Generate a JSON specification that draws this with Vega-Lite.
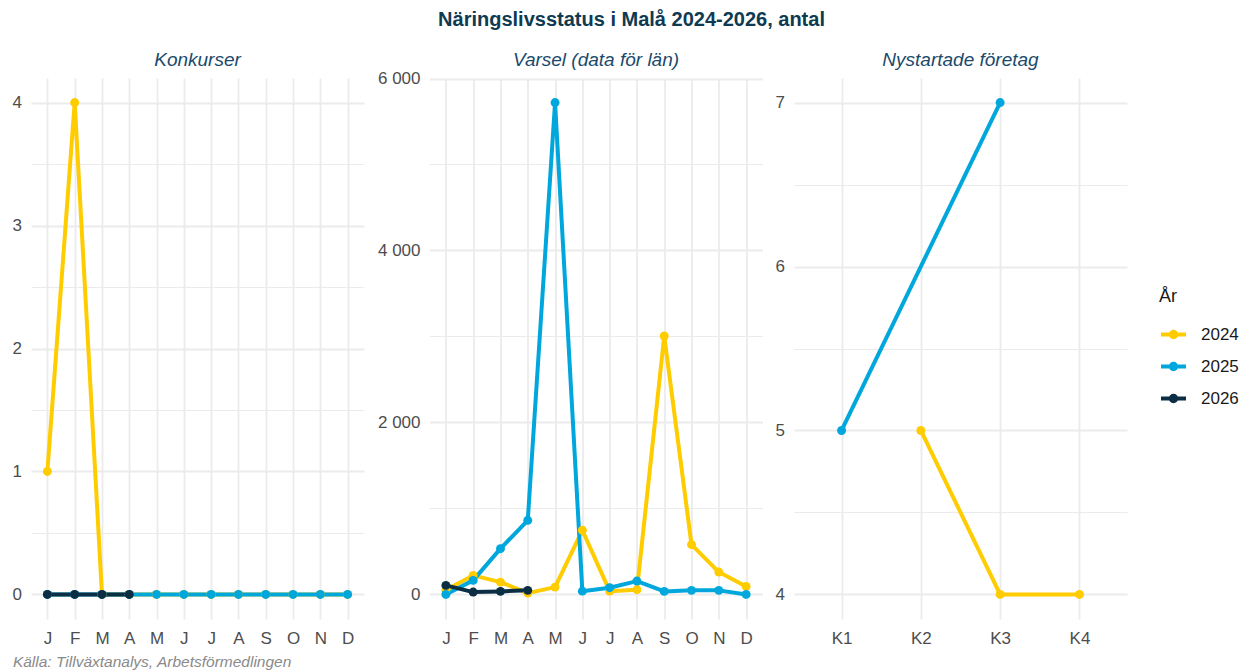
{
  "$schema": "https://vega.github.io/schema/vega-lite/v6.json",
  "background": "white",
  "padding": {"left": 12, "top": 9, "right": 5, "bottom": 0},
  "title": {"text": "Näringslivsstatus i Malå 2024-2026, antal", "fontSize": 20, "fontWeight": "bold", "fontStyle": "normal", "color": "#0e3a52", "anchor": "middle", "frame": "bounds", "offset": 21, "dx": 6},
  "datasets": {
    "konk": [
      {"year": "2024", "m": 1, "v": 1}, {"year": "2024", "m": 2, "v": 4}, {"year": "2024", "m": 3, "v": 0}, {"year": "2024", "m": 4, "v": 0},
      {"year": "2024", "m": 5, "v": 0}, {"year": "2024", "m": 6, "v": 0}, {"year": "2024", "m": 7, "v": 0}, {"year": "2024", "m": 8, "v": 0},
      {"year": "2024", "m": 9, "v": 0}, {"year": "2024", "m": 10, "v": 0}, {"year": "2024", "m": 11, "v": 0}, {"year": "2024", "m": 12, "v": 0},
      {"year": "2025", "m": 1, "v": 0}, {"year": "2025", "m": 2, "v": 0}, {"year": "2025", "m": 3, "v": 0}, {"year": "2025", "m": 4, "v": 0},
      {"year": "2025", "m": 5, "v": 0}, {"year": "2025", "m": 6, "v": 0}, {"year": "2025", "m": 7, "v": 0}, {"year": "2025", "m": 8, "v": 0},
      {"year": "2025", "m": 9, "v": 0}, {"year": "2025", "m": 10, "v": 0}, {"year": "2025", "m": 11, "v": 0}, {"year": "2025", "m": 12, "v": 0},
      {"year": "2026", "m": 1, "v": 0}, {"year": "2026", "m": 2, "v": 0}, {"year": "2026", "m": 3, "v": 0}, {"year": "2026", "m": 4, "v": 0}
    ],
    "varsel": [
      {"year": "2024", "m": 1, "v": 50}, {"year": "2024", "m": 2, "v": 221}, {"year": "2024", "m": 3, "v": 143}, {"year": "2024", "m": 4, "v": 15},
      {"year": "2024", "m": 5, "v": 85}, {"year": "2024", "m": 6, "v": 746}, {"year": "2024", "m": 7, "v": 38}, {"year": "2024", "m": 8, "v": 55},
      {"year": "2024", "m": 9, "v": 3005}, {"year": "2024", "m": 10, "v": 579}, {"year": "2024", "m": 11, "v": 260}, {"year": "2024", "m": 12, "v": 93},
      {"year": "2025", "m": 1, "v": 0}, {"year": "2025", "m": 2, "v": 163}, {"year": "2025", "m": 3, "v": 532}, {"year": "2025", "m": 4, "v": 862},
      {"year": "2025", "m": 5, "v": 5720}, {"year": "2025", "m": 6, "v": 38}, {"year": "2025", "m": 7, "v": 78}, {"year": "2025", "m": 8, "v": 155},
      {"year": "2025", "m": 9, "v": 35}, {"year": "2025", "m": 10, "v": 47}, {"year": "2025", "m": 11, "v": 47}, {"year": "2025", "m": 12, "v": 0},
      {"year": "2026", "m": 1, "v": 105}, {"year": "2026", "m": 2, "v": 27}, {"year": "2026", "m": 3, "v": 35}, {"year": "2026", "m": 4, "v": 47}
    ],
    "nyst": [
      {"year": "2024", "q": "K2", "v": 5}, {"year": "2024", "q": "K3", "v": 4}, {"year": "2024", "q": "K4", "v": 4},
      {"year": "2025", "q": "K1", "v": 5}, {"year": "2025", "q": "K3", "v": 7}
    ]
  },
  "spacing": 12.5,
  "hconcat": [
    {
      "width": 333, "height": 541,
      "title": {"text": "Konkurser", "frame": "group"},
      "data": {"name": "konk"},
      "encoding": {
        "x": {"field": "m", "type": "ordinal", "scale": {"type": "point", "padding": 0.6},
          "axis": {"grid": true, "labelAngle": 0, "labelPadding": 11,
            "labelExpr": "['J','F','M','A','M','J','J','A','S','O','N','D'][datum.value-1]",
            "title": "Källa: Tillväxtanalys, Arbetsförmedlingen", "titleX": -18.6, "titleY": 47.5, "titleAlign": "left", "titleAnchor": "start", "titleBaseline": "alphabetic",
            "titleFontSize": 15.5, "titleFontStyle": "italic", "titleFontWeight": "normal", "titleColor": "#8a8a8a"}},
        "y": {"field": "v", "type": "quantitative", "title": null, "scale": {"domain": [-0.2, 4.2], "nice": false, "zero": false},
          "axis": {"title": null, "values": [0, 0.5, 1, 1.5, 2, 2.5, 3, 3.5, 4], "labelExpr": "datum.value % 1 === 0 ? format(datum.value, 'd') : ''",
            "gridWidth": {"condition": {"test": "datum.value % 1 !== 0", "value": 1}, "value": 1.8}}},
        "color": {"field": "year", "type": "nominal",
          "scale": {"domain": ["2024", "2025", "2026"], "range": ["#FFCC00", "#00A7DC", "#0B2E45"]},
          "legend": {"orient": "none", "legendX": 1128, "legendY": 210, "title": "År", "titleFontSize": 18, "titleFontWeight": "normal", "titleColor": "#1a1a1a", "titlePadding": 14,
            "labelFontSize": 17, "labelColor": "#1a1a1a", "labelOffset": 13, "padding": 0, "rowPadding": 6,
            "symbolType": "M-1,0L1,0M-0.22,0A0.22,0.22,0,1,1,0.22,0A0.22,0.22,0,1,1,-0.22,0Z", "symbolSize": 625, "symbolStrokeWidth": 4,
            "encode": {"symbols": {"update": {"fill": {"scale": "color", "field": "value"}, "stroke": {"scale": "color", "field": "value"}, "opacity": {"value": 1}}}}}}
      },
      "layer": [
        {"mark": {"type": "line", "strokeWidth": 4, "strokeJoin": "round"}},
        {"mark": {"type": "point", "filled": true, "size": 80, "opacity": 1}}
      ]
    },
    {
      "width": 333, "height": 541,
      "title": {"text": "Varsel (data för län)", "frame": "group", "offset": 0},
      "data": {"name": "varsel"},
      "encoding": {
        "x": {"field": "m", "type": "ordinal", "scale": {"type": "point", "padding": 0.6},
          "axis": {"grid": true, "labelAngle": 0, "labelPadding": 11, "title": null,
            "labelExpr": "['J','F','M','A','M','J','J','A','S','O','N','D'][datum.value-1]"}},
        "y": {"field": "v", "type": "quantitative", "title": null, "scale": {"domain": [-286, 6006], "nice": false, "zero": false},
          "axis": {"title": null, "values": [0, 1000, 2000, 3000, 4000, 5000, 6000], "labelExpr": "datum.value % 2000 === 0 ? replace(format(datum.value, ','), ',', ' ') : ''",
            "gridWidth": {"condition": {"test": "datum.value % 2000 !== 0", "value": 1}, "value": 1.8}}},
        "color": {"field": "year", "type": "nominal",
          "scale": {"domain": ["2024", "2025", "2026"], "range": ["#FFCC00", "#00A7DC", "#0B2E45"]},
          "legend": {"orient": "none", "legendX": 1128, "legendY": 210, "title": "År", "titleFontSize": 18, "titleFontWeight": "normal", "titleColor": "#1a1a1a", "titlePadding": 14,
            "labelFontSize": 17, "labelColor": "#1a1a1a", "labelOffset": 13, "padding": 0, "rowPadding": 6,
            "symbolType": "M-1,0L1,0M-0.22,0A0.22,0.22,0,1,1,0.22,0A0.22,0.22,0,1,1,-0.22,0Z", "symbolSize": 625, "symbolStrokeWidth": 4,
            "encode": {"symbols": {"update": {"fill": {"scale": "color", "field": "value"}, "stroke": {"scale": "color", "field": "value"}, "opacity": {"value": 1}}}}}}
      },
      "layer": [
        {"mark": {"type": "line", "strokeWidth": 4, "strokeJoin": "round"}},
        {"mark": {"type": "point", "filled": true, "size": 80, "opacity": 1}}
      ]
    },
    {
      "width": 333, "height": 541,
      "title": {"text": "Nystartade företag", "frame": "group"},
      "data": {"name": "nyst"},
      "encoding": {
        "x": {"field": "q", "type": "ordinal", "scale": {"type": "point", "padding": 0.6, "domain": ["K1", "K2", "K3", "K4"]},
          "axis": {"grid": true, "labelAngle": 0, "labelPadding": 11, "title": null}},
        "y": {"field": "v", "type": "quantitative", "title": null, "scale": {"domain": [3.85, 7.15], "nice": false, "zero": false},
          "axis": {"title": null, "values": [4, 4.5, 5, 5.5, 6, 6.5, 7], "labelExpr": "datum.value % 1 === 0 ? format(datum.value, 'd') : ''",
            "gridWidth": {"condition": {"test": "datum.value % 1 !== 0", "value": 1}, "value": 1.8}}},
        "color": {"field": "year", "type": "nominal",
          "scale": {"domain": ["2024", "2025", "2026"], "range": ["#FFCC00", "#00A7DC", "#0B2E45"]},
          "legend": {"orient": "none", "legendX": 1128, "legendY": 210, "title": "År", "titleFontSize": 18, "titleFontWeight": "normal", "titleColor": "#1a1a1a", "titlePadding": 14,
            "labelFontSize": 17, "labelColor": "#1a1a1a", "labelOffset": 13, "padding": 0, "rowPadding": 6,
            "symbolType": "M-1,0L1,0M-0.22,0A0.22,0.22,0,1,1,0.22,0A0.22,0.22,0,1,1,-0.22,0Z", "symbolSize": 625, "symbolStrokeWidth": 4,
            "encode": {"symbols": {"update": {"fill": {"scale": "color", "field": "value"}, "stroke": {"scale": "color", "field": "value"}, "opacity": {"value": 1}}}}}}
      },
      "layer": [
        {"mark": {"type": "line", "strokeWidth": 4, "strokeJoin": "round"}},
        {"mark": {"type": "point", "filled": true, "size": 80, "opacity": 1}}
      ]
    }
  ],
  "config": {
    "font": "Liberation Sans",
    "view": {"stroke": null},
    "axis": {"domain": false, "ticks": false, "labelFontSize": 17, "labelColor": "#4d4d4d", "labelFont": "Liberation Sans", "gridColor": "#ebebeb", "gridWidth": 1.8, "labelPadding": 9.5},
    "title": {"fontSize": 19, "fontStyle": "italic", "fontWeight": "normal", "color": "#1b4a6b", "offset": 8, "font": "Liberation Sans"}
  }
}
